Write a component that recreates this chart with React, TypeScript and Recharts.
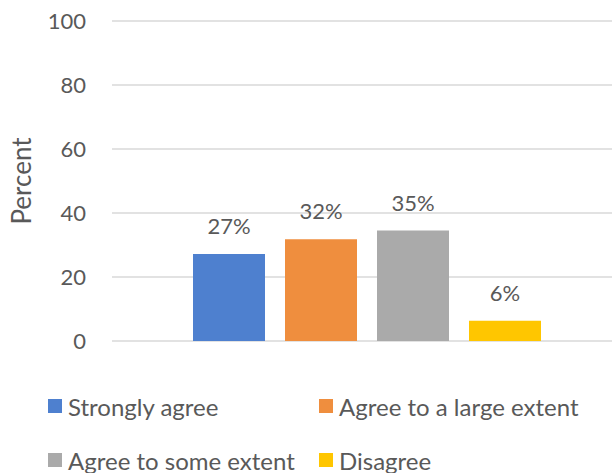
import React from 'react';
import { BarChart, Bar, XAxis, YAxis, CartesianGrid, Legend, LabelList, Label } from 'recharts';

const seriesKeys = ['sa', 'al', 'se', 'di'];
const seriesNames = ['Strongly agree', 'Agree to a large extent', 'Agree to some extent', 'Disagree'];
const seriesValues = [27.2, 31.8, 34.5, 6.3];
const seriesColors = ['#4E80CF', '#EF8E3E', '#AAAAAA', '#FFC600'];
const yTicks = [0, 20, 40, 60, 80, 100];

const data = [
  seriesKeys.reduce((row: any, k, i) => {
    row[k] = seriesValues[i];
    return row;
  }, { name: '' }),
];

const FONT = 'Lato, "Open Sans", sans-serif';
const TEXT = '#595959';

const LegendContent = () => {
  const pos = [
    { left: 48, top: 0 },
    { left: 319, top: 0 },
    { left: 48, top: 54 },
    { left: 319, top: 54 },
  ];
  return (
    <div style={{ position: 'relative', width: 612, height: 80 }}>
      {seriesNames.map((n, i) => (
        <div
          key={n}
          style={{
            position: 'absolute',
            left: pos[i].left,
            top: pos[i].top,
            height: 26,
            whiteSpace: 'nowrap',
          }}
        >
          <span
            style={{
              position: 'absolute',
              left: 0,
              top: 5,
              width: 14,
              height: 14,
              background: seriesColors[i],
            }}
          />
          <span
            style={{
              position: 'absolute',
              left: 20,
              top: 0,
              fontFamily: FONT,
              fontSize: 24,
              lineHeight: '26px',
              color: TEXT,
            }}
          >
            {n}
          </span>
        </div>
      ))}
    </div>
  );
};

export default function App() {
  return (
    <div style={{ position: 'absolute', left: 0, top: 0, width: 612, height: 473, overflow: 'hidden', background: '#fff' }}>
      <BarChart
        width={612}
        height={473}
        data={data}
        margin={{ top: 21, right: 0, bottom: 132, left: 0 }}
        barSize={72}
        barGap={20}
      >
        <CartesianGrid vertical={false} stroke="#D9D9D9" strokeWidth={1.5} />
        <XAxis dataKey="name" hide padding={{ left: 10, right: 0 }} />
        <YAxis
          width={112}
          domain={[0, 100]}
          ticks={yTicks}
          axisLine={false}
          tickLine={false}
          tickSize={0}
          tickMargin={26}
          tick={{ fill: TEXT, fontSize: 22, fontFamily: FONT }}
        >
          <Label
            value="Percent"
            angle={-90}
            position="insideLeft"
            style={{ fill: TEXT, fontSize: 26, fontFamily: FONT, textAnchor: 'middle' }}
            dx={17}
          />
        </YAxis>
        <Legend
          layout="horizontal"
          verticalAlign="middle"
          align="center"
          content={<LegendContent />}
          wrapperStyle={{ top: 394, left: 0, width: 612 }}
        />
        {seriesKeys.map((k, i) => (
          <Bar key={k} dataKey={k} name={seriesNames[i]} fill={seriesColors[i]} isAnimationActive={false}>
            <LabelList
              dataKey={k}
              position="top"
              offset={20}
              formatter={(v: any) => `${Math.round(Number(v))}%`}
              style={{ fill: TEXT, fontSize: 22, fontFamily: FONT }}
            />
          </Bar>
        ))}
      </BarChart>
    </div>
  );
}
